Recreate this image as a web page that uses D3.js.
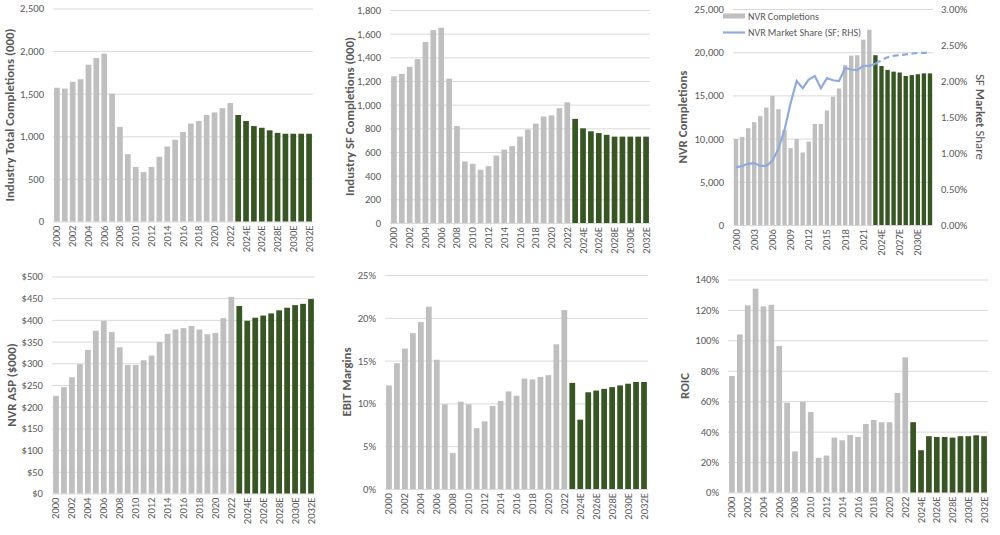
<!DOCTYPE html>
<html>
<head>
<meta charset="utf-8">
<script src="https://cdn.jsdelivr.net/npm/d3@7"></script>
<style>
  body { margin: 0; background: #fff; }
  svg text { font-family: Carlito, "Liberation Sans", Arial, sans-serif; fill: #595959; }
</style>
</head>
<body>
<svg id="chart" width="1000" height="535"></svg>
<script>
// categories: 2000-2022 actual, 2023E onward forecast
const years = ["2000","2001","2002","2003","2004","2005","2006","2007","2008","2009","2010",
  "2011","2012","2013","2014","2015","2016","2017","2018","2019","2020","2021","2022",
  "2023E","2024E","2025E","2026E","2027E","2028E","2029E","2030E","2031E","2032E"];
const firstForecast = "2023E";

// x tick labels
const xLabelsEvery2 = ["2000","2002","2004","2006","2008","2010","2012","2014","2016","2018",
  "2020","2022","2024E","2026E","2028E","2030E","2032E"];
const xLabelsEvery3 = ["2000","2003","2006","2009","2012","2015","2018","2021","2024E","2027E","2030E"];

// series values
const totalCompletions = [1570,1560,1640,1670,1840,1920,1970,1500,1110,790,640,
  580,640,760,880,960,1050,1150,1180,1250,1280,1330,1390,
  1250,1180,1120,1100,1070,1040,1030,1030,1030,1030];
const sfCompletions = [1240,1260,1320,1385,1530,1630,1650,1220,820,520,500,
  450,480,570,620,650,730,790,840,900,910,970,1020,
  880,800,775,760,745,730,730,730,730,730];
const nvrCompletions = [9950,10200,11200,11900,12600,13600,14950,13400,11000,8900,9950,
  8400,9650,11700,11700,13250,14850,15800,18500,19600,19650,21450,22600,
  19650,18400,17950,17750,17650,17250,17350,17450,17550,17550];
const nvrShare = [0.0080,0.0082,0.0085,0.0086,0.0082,0.0082,0.0089,0.0106,0.0132,0.0169,0.0200,
  0.0190,0.0202,0.0207,0.0190,0.0204,0.0201,0.0200,0.0218,0.0216,0.0215,0.0221,0.0221,
  0.0224,0.0229,0.0233,0.0235,0.0236,0.0237,0.0238,0.0239,0.0239,0.0240];
const nvrAsp = [225,245,268,298,331,375,398,372,337,296,296,
  307,318,349,368,378,381,386,378,367,370,404,453,
  432,398,405,410,415,422,428,434,437,448];
const ebitMargin = [0.121,0.147,0.164,0.182,0.195,0.213,0.151,0.099,0.042,0.102,0.099,
  0.071,0.079,0.097,0.103,0.114,0.109,0.129,0.128,0.131,0.133,0.169,0.209,
  0.124,0.081,0.113,0.115,0.117,0.119,0.121,0.123,0.125,0.125];
const roic = [0.766,1.039,1.23,1.34,1.223,1.234,0.963,0.59,0.27,0.597,0.529,
  0.228,0.243,0.361,0.343,0.378,0.365,0.45,0.477,0.462,0.462,0.654,0.888,
  0.462,0.278,0.37,0.365,0.365,0.361,0.37,0.37,0.376,0.37];

// y tick values
const totalTicks = [0,500,1000,1500,2000,2500];
const sfTicks = [0,200,400,600,800,1000,1200,1400,1600,1800];
const nvrTicks = [0,5000,10000,15000,20000,25000];
const shareTicks = [0,0.005,0.01,0.015,0.02,0.025,0.03];
const aspTicks = [0,50,100,150,200,250,300,350,400,450,500];
const ebitTicks = [0,0.05,0.10,0.15,0.20,0.25];
const roicTicks = [0,0.2,0.4,0.6,0.8,1.0,1.2,1.4];

const GRAY = "#bfbfbf", GREEN = "#375623", BLUE = "#8faadc", GRID = "#d9d9d9";
const TICK_FS = "10.6px", TITLE_FS = "12.8px";
const forecastIdx = years.indexOf(firstForecast);

const svg = d3.select("#chart");

function panel(o) {
  const g = svg.append("g");
  const x = d3.scaleBand().domain(years).range([o.left, o.right])
    .paddingInner(0.28).paddingOuter(0.14);
  const y = d3.scaleLinear().domain([0, o.ticks[o.ticks.length - 1]]).range([o.bottom, o.top]);

  // gridlines + y labels
  g.append("g")
    .attr("transform", `translate(${o.left},0)`)
    .call(d3.axisLeft(y).tickValues(o.ticks).tickFormat(o.fmt)
      .tickSize(-(o.right - o.left)).tickPadding(o.pad || 9))
    .call(a => a.select(".domain").remove())
    .call(a => a.selectAll("line").attr("stroke", GRID))
    .call(a => a.selectAll("text").style("font-size", TICK_FS));

  // bars
  g.selectAll("rect.bar")
    .data(o.values.map((v, i) => ({ year: years[i], v, i })))
    .enter().append("rect")
      .attr("class", "bar")
      .attr("x", d => x(d.year))
      .attr("y", d => y(d.v))
      .attr("width", x.bandwidth())
      .attr("height", d => y(0) - y(d.v))
      .attr("fill", d => d.i >= forecastIdx ? GREEN : GRAY);

  // x labels
  g.append("g")
    .attr("transform", `translate(0,${o.bottom})`)
    .call(d3.axisBottom(x).tickValues(o.xLabels).tickSize(0))
    .call(a => a.select(".domain").remove())
    .call(a => a.selectAll("text")
      .attr("transform", "rotate(-90)")
      .attr("text-anchor", "end")
      .attr("x", -4).attr("y", 0).attr("dy", "0.33em")
      .style("font-size", TICK_FS));

  // y title
  g.append("text")
    .attr("transform", `translate(${o.titleX},${(o.top + o.bottom) / 2}) rotate(-90)`)
    .attr("text-anchor", "middle")
    .attr("dy", "0.35em")
    .style("font-size", TITLE_FS)
    .style("font-weight", "bold")
    .text(o.title);

  return { g, x, y };
}

panel({ left: 53, right: 313, top: 8.5, bottom: 221.5, ticks: totalTicks, fmt: d3.format(","),
  values: totalCompletions, xLabels: xLabelsEvery2, titleX: 10, title: "Industry Total Completions (000)" });

panel({ left: 390, right: 650, top: 10, bottom: 223, ticks: sfTicks, fmt: d3.format(","),
  values: sfCompletions, xLabels: xLabelsEvery2, titleX: 350, title: "Industry SF Completions (000)" });

const p3 = panel({ left: 733, right: 933, top: 9, bottom: 225, ticks: nvrTicks, fmt: d3.format(","),
  values: nvrCompletions, xLabels: xLabelsEvery3, titleX: 683, title: "NVR Completions" });

panel({ left: 52, right: 315, top: 276.5, bottom: 493.5, ticks: aspTicks, fmt: d => "$" + d,
  values: nvrAsp, xLabels: xLabelsEvery2, titleX: 12, title: "NVR ASP ($000)" });

panel({ left: 385, right: 648, top: 275, bottom: 489, ticks: ebitTicks, fmt: d3.format(".0%"),
  values: ebitMargin, xLabels: xLabelsEvery2, titleX: 347, title: "EBIT Margins" });

panel({ left: 728, right: 988, top: 279.5, bottom: 492.5, ticks: roicTicks, fmt: d3.format(".0%"),
  values: roic, xLabels: xLabelsEvery2, titleX: 685, title: "ROIC" });

// NVR market share line on right axis
const yR = d3.scaleLinear().domain([0, shareTicks[shareTicks.length - 1]]).range([225, 9]);
p3.g.append("g")
  .attr("transform", "translate(933,0)")
  .call(d3.axisRight(yR).tickValues(shareTicks).tickFormat(d3.format(".2%")).tickSize(0).tickPadding(8))
  .call(a => a.select(".domain").remove())
  .call(a => a.selectAll("text").style("font-size", TICK_FS));

const pts = nvrShare.map((v, i) => [p3.x(years[i]) + p3.x.bandwidth() / 2, yR(v)]);
const line = d3.line();
p3.g.append("path")
  .attr("d", line(pts.slice(0, forecastIdx + 1)))
  .attr("fill", "none").attr("stroke", BLUE).attr("stroke-width", 2.2);
p3.g.append("path")
  .attr("d", line(pts.slice(forecastIdx)))
  .attr("fill", "none").attr("stroke", BLUE).attr("stroke-width", 2.2)
  .attr("stroke-dasharray", "6,3.5");

const rt = p3.g.append("text")
  .attr("transform", "translate(980,117) rotate(90)")
  .attr("text-anchor", "middle")
  .attr("dy", "0.35em")
  .style("font-size", TITLE_FS);
rt.append("tspan").text("SF ");
rt.append("tspan").style("font-weight", "bold").text("Market");
rt.append("tspan").text(" Share");

// legend
const lg = p3.g.append("g").style("font-size", "10px");
lg.append("rect").attr("x", 723).attr("y", 13.5).attr("width", 22).attr("height", 5).attr("fill", GRAY);
lg.append("text").attr("x", 748).attr("y", 19.5).text("NVR Completions");
lg.append("line").attr("x1", 723).attr("x2", 745).attr("y1", 32.5).attr("y2", 32.5)
  .attr("stroke", BLUE).attr("stroke-width", 2.2);
lg.append("text").attr("x", 748).attr("y", 36).text("NVR Market Share (SF; RHS)");
</script>
</body>
</html>
